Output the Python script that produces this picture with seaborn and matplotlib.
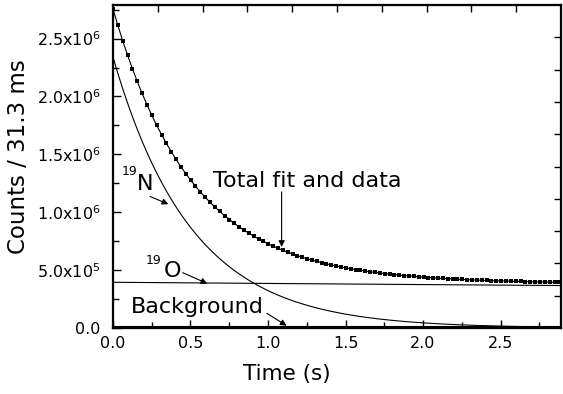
import numpy as np
import pandas as pd
import matplotlib
matplotlib.use("Agg")
import matplotlib.pyplot as plt
import seaborn as sns

# Scaler bin width (s); every count below is per bin
BIN_WIDTH = 0.0313

# Measured counts per bin, in thousands, bins starting at t = 0
data_counts_k = [
    2755, 2614, 2482, 2357, 2240, 2130, 2026, 1929, 1838, 1752,
    1671, 1595, 1523, 1456, 1393, 1334, 1278, 1225, 1176, 1130,
    1086, 1045, 1007, 970, 936, 904, 874, 845, 819, 794,
    770, 748, 727, 707, 689, 671, 655, 640, 625, 611,
    599, 587, 575, 564, 554, 545, 536, 527, 519, 512,
    505, 498, 492, 486, 481, 475, 470, 466, 461, 457,
    453, 449, 446, 443, 439, 436, 434, 431, 429, 426,
    424, 422, 420, 418, 416, 414, 413, 411, 410, 408,
    407, 405, 404, 403, 402, 401, 400, 399, 398, 397,
    396, 395, 395,
]

# Fitted 19N component per bin, in thousands
n19_fit_k = [
    2340.0, 2199.3, 2067.2, 1942.9, 1826.1, 1716.4, 1613.2, 1516.3, 1425.1, 1339.5,
    1259.0, 1183.3, 1112.2, 1045.3, 982.5, 923.4, 868.0, 815.8, 766.8, 720.7,
    677.3, 636.6, 598.4, 562.4, 528.6, 496.8, 467.0, 438.9, 412.5, 387.7,
    364.4, 342.5, 321.9, 302.6, 284.4, 267.3, 251.2, 236.1, 221.9, 208.6,
    196.0, 184.3, 173.2, 162.8, 153.0, 143.8, 135.2, 127.0, 119.4, 112.2,
    105.5, 99.1, 93.2, 87.6, 82.3, 77.4, 72.7, 68.4, 64.2, 60.4,
    56.7, 53.3, 50.1, 47.1, 44.3, 41.6, 39.1, 36.8, 34.6, 32.5,
    30.5, 28.7, 27.0, 25.3, 23.8, 22.4, 21.1, 19.8, 18.6, 17.5,
    16.4, 15.4, 14.5, 13.6, 12.8, 12.1, 11.3, 10.6, 10.0, 9.4,
    8.8, 8.3, 7.8, 7.3,
]

# Fitted 19O component per bin, in thousands
o19_fit_k = [
    395.0, 394.7, 394.4, 394.0, 393.7, 393.4, 393.1, 392.8, 392.5, 392.1,
    391.8, 391.5, 391.2, 390.9, 390.6, 390.2, 389.9, 389.6, 389.3, 389.0,
    388.7, 388.4, 388.1, 387.7, 387.4, 387.1, 386.8, 386.5, 386.2, 385.9,
    385.6, 385.2, 384.9, 384.6, 384.3, 384.0, 383.7, 383.4, 383.1, 382.8,
    382.5, 382.2, 381.8, 381.5, 381.2, 380.9, 380.6, 380.3, 380.0, 379.7,
    379.4, 379.1, 378.8, 378.5, 378.2, 377.9, 377.6, 377.3, 377.0, 376.7,
    376.3, 376.0, 375.7, 375.4, 375.1, 374.8, 374.5, 374.2, 373.9, 373.6,
    373.3, 373.0, 372.7, 372.4, 372.1, 371.8, 371.5, 371.2, 370.9, 370.6,
    370.3, 370.0, 369.7, 369.4, 369.2, 368.9, 368.6, 368.3, 368.0, 367.7,
    367.4, 367.1, 366.8, 366.5,
]

# Constant background, in thousands
background_k = 20.0

x_ticks = [0.0, 0.5, 1.0, 1.5, 2.0, 2.5]
x_tick_labels = ["0.0", "0.5", "1.0", "1.5", "2.0", "2.5"]
y_ticks = [0.0, 5.0e5, 1.0e6, 1.5e6, 2.0e6, 2.5e6]
y_tick_labels = ["0.0", "5.0x10$^{5}$", "1.0x10$^{6}$", "1.5x10$^{6}$",
                 "2.0x10$^{6}$", "2.5x10$^{6}$"]

# ---------------------------------------------------------------- tables
fit = pd.DataFrame({
    "time": np.arange(len(n19_fit_k)) * BIN_WIDTH,
    "n19": np.array(n19_fit_k) * 1e3,
    "o19": np.array(o19_fit_k) * 1e3,
})
fit["background"] = background_k * 1e3
fit["total"] = fit["n19"] + fit["o19"] + fit["background"]

data = pd.DataFrame({
    "time": np.arange(len(data_counts_k)) * BIN_WIDTH,
    "counts": np.array(data_counts_k) * 1e3,
})

# ---------------------------------------------------------------- style
sns.set_style("ticks")
plt.rcParams["font.family"] = ["DejaVu Sans"]
plt.rcParams["mathtext.fontset"] = "dejavusans"
plt.rcParams["axes.linewidth"] = 1.5
for key in ("text.color", "axes.labelcolor", "xtick.color", "ytick.color",
            "axes.edgecolor"):
    plt.rcParams[key] = "black"

fig = plt.figure(figsize=(5.63, 3.94), dpi=100)
ax = fig.add_axes([0.2007, 0.1675, 0.7957, 0.8198])

line_kw = dict(color="black", linewidth=0.8, legend=False)
sns.lineplot(data=fit, x="time", y="total", ax=ax, **line_kw)
sns.lineplot(data=fit, x="time", y="n19", ax=ax, **line_kw)
sns.lineplot(data=fit, x="time", y="o19", ax=ax, **line_kw)
sns.lineplot(data=fit, x="time", y="background", ax=ax, **line_kw)
sns.scatterplot(data=data, x="time", y="counts", ax=ax, marker="s",
                s=9, color="black", linewidth=0, legend=False, zorder=4)

ax.set_xlim(0, 2.89)
ax.set_ylim(0, 2.79e6)
ax.set_xticks(x_ticks)
ax.set_xticklabels(x_tick_labels)
ax.set_yticks(y_ticks)
ax.set_yticklabels(y_tick_labels)
ax.set_xticks(np.array(x_ticks) + 0.25, minor=True)
ax.set_yticks(np.array(y_ticks) + 2.5e5, minor=True)
ax.tick_params(which="both", direction="in", width=1.0, labelsize=11.5,
               top=False, right=False)
ax.tick_params(axis="x", which="both", pad=6)
ax.tick_params(axis="y", which="both", pad=9)
ax.tick_params(which="major", length=6)
ax.tick_params(which="minor", length=4)
ax.set_xlabel("Time (s)", fontsize=15.5, va="top")
ax.set_ylabel("Counts / 31.3 ms", fontsize=16.5, va="center")
ax.xaxis.set_label_coords(0.387, -0.111)
ax.yaxis.set_label_coords(-0.21, 0.532)

# frame ticks on the opposite sides
ax_r = ax.twinx()
ax_r.set_ylim(0, 10)
ax_r.set_yticks(range(1, 10))
ax_r.tick_params(axis="y", direction="in", length=5, width=1.0, labelright=False)
ax_t = ax.twiny()
ax_t.set_xlim(0, 10)
ax_t.set_xticks(range(1, 10))
ax_t.tick_params(axis="x", direction="in", length=5, width=1.0, labeltop=False)

# ---------------------------------------------------------------- labels
arrow = dict(arrowstyle="-|>", color="black", lw=0.8, mutation_scale=9,
             shrinkA=0, shrinkB=0)
big = dict(fontsize=16, ha="left", va="baseline", color="black")
sup = dict(fontsize=9, ha="left", va="baseline", color="black")

ax.text(0.058, 1.325e6, "19", **sup)
ax.text(0.153, 1.188e6, "N", **big)
ax.annotate("", xy=(0.357, 1.07e6), xytext=(0.239, 1.136e6), arrowprops=arrow)

ax.text(0.213, 5.55e5, "19", **sup)
ax.text(0.325, 4.44e5, "O", **big)
ax.annotate("", xy=(0.608, 3.84e5), xytext=(0.45, 4.78e5), arrowprops=arrow)

ax.text(0.118, 1.27e5, "Background", **big)
ax.annotate("", xy=(1.12, 2.0e4), xytext=(0.992, 1.27e5), arrowprops=arrow)

ax.text(0.647, 1.217e6, "Total fit and data", **big)
ax.annotate("", xy=(1.088, 7.0e5), xytext=(1.088, 1.175e6), arrowprops=arrow)

fig.savefig("out.png", dpi=100)
